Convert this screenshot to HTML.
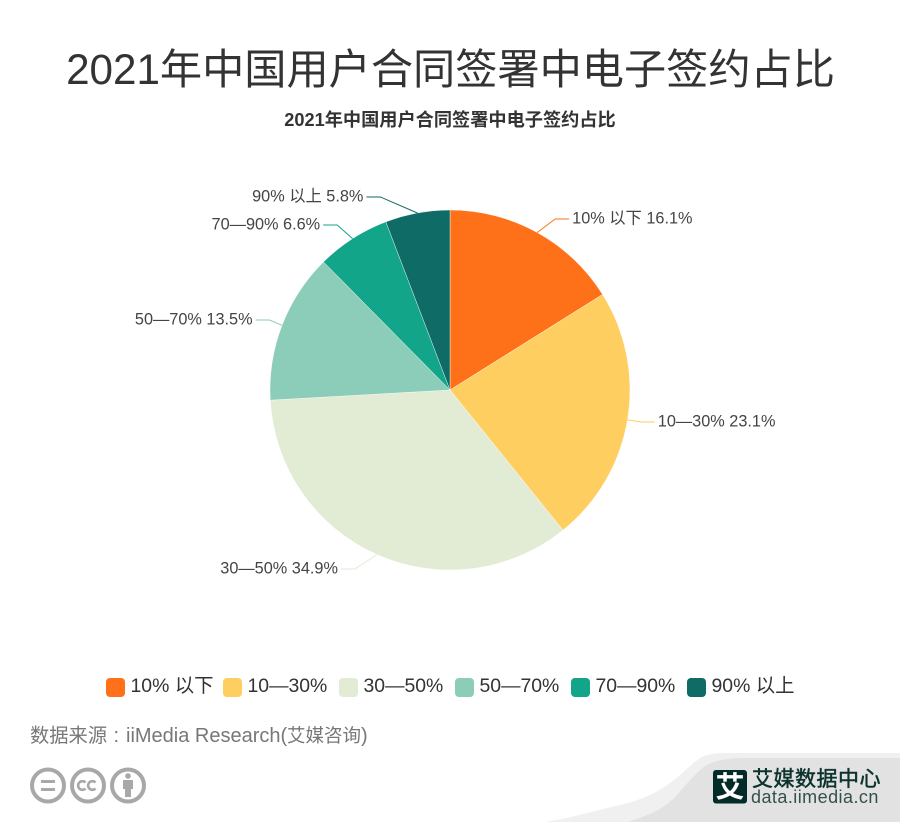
<!DOCTYPE html>
<html lang="zh">
<head>
<meta charset="utf-8">
<title>2021年中国用户合同签署中电子签约占比</title>
<style>
html,body{margin:0;padding:0;background:#fff;}
#stage{position:relative;width:900px;height:822px;overflow:hidden;background:#fff;font-family:"Liberation Sans","Noto Sans CJK SC",sans-serif;}
svg{position:absolute;left:0;top:0;display:block;}
text{font-family:"Liberation Sans","Noto Sans CJK SC",sans-serif;}
</style>
</head>
<body>
<div id="stage">
<svg id="chart" width="900" height="822" viewBox="0 0 900 822">
  <g>
    <path d="M545 822 C570 818 590 812 607 808 C625 804 640 800 650 795 C662 789 672 782 680 775 C688 768 694 762 700 758 C708 754 716 753 730 753 L900 753 L900 822 Z" fill="#f0f0f0"/>
    <path d="M628 822 C640 818 652 814 663 807 C672 801 678 794 683 788 C689 781 695 775 700 770 C708 763 720 758 745 758 L900 758 L900 822 Z" fill="#e2e2e2"/>
  </g>
  <text x="450.5" y="84" text-anchor="middle" font-size="42.2" fill="#333333">2021年中国用户合同签署中电子签约占比</text>
  <text x="450" y="126" text-anchor="middle" font-size="18.2" font-weight="bold" fill="#333333">2021年中国用户合同签署中电子签约占比</text>
  <g id="slices"></g>
  <g id="leaders"></g>
  <g id="labels"></g>
  <g id="legend"></g>
  <text y="742" font-size="20" fill="#777777"><tspan x="30" font-size="19.3">数据来源</tspan><tspan x="113.5">:</tspan><tspan x="126">iiMedia Research(</tspan><tspan x="287" font-size="18.5">艾媒咨询</tspan><tspan>)</tspan></text>
  <g fill="none" stroke="#a8a8a8">
    <g>
      <circle cx="48" cy="785.5" r="16" stroke-width="4"/>
      <rect x="41" y="780" width="14" height="3" fill="#a8a8a8" stroke="none"/>
      <rect x="41" y="788" width="14" height="3" fill="#a8a8a8" stroke="none"/>
    </g>
    <g>
      <circle cx="88" cy="785.5" r="16" stroke-width="4"/>
      <path d="M85.5 782.5a4.3 4.3 0 1 0 0 6" stroke-width="2.6"/>
      <path d="M95.5 782.5a4.3 4.3 0 1 0 0 6" stroke-width="2.6"/>
    </g>
    <g>
      <circle cx="128" cy="785.5" r="16" stroke-width="4"/>
      <circle cx="128" cy="776" r="2.8" fill="#a8a8a8" stroke="none"/>
      <path d="M123 780 H133 V789 H131 V797 H125 V789 H123 Z" fill="#a8a8a8" stroke="none"/>
    </g>
  </g>
  <g>
    <rect x="713" y="770" width="34" height="33.5" rx="3" fill="#032b27"/>
    <text x="730" y="797" text-anchor="middle" font-size="29" font-weight="bold" fill="#ffffff">艾</text>
    <text x="752" y="786" font-size="21" letter-spacing="0.5" fill="#0c322e" stroke="#0c322e" stroke-width="0.5">艾媒数据中心</text>
    <text x="751" y="803" font-size="18" letter-spacing="0.45" fill="#34504c">data.iimedia.cn</text>
  </g>
</svg>
</div>
<script>
var categories = ["10% 以下", "10—30%", "30—50%", "50—70%", "70—90%", "90% 以上"];
var shareValues = [16.1, 23.1, 34.9, 13.5, 6.6, 5.8];
var sliceColors = ["#ff7119", "#ffce60", "#e2ebd3", "#8ccdb9", "#13a58a", "#0e6b66"];

var NS = "http://www.w3.org/2000/svg";
var cx = 450, cy = 390, radius = 180, labelRadius = 196;

function make(tag, attrs, parent) {
  var el = document.createElementNS(NS, tag);
  for (var key in attrs) el.setAttribute(key, attrs[key]);
  parent.appendChild(el);
  return el;
}
function angleScale(cumulative, total) {
  return cumulative / total * Math.PI * 2;
}
function polarX(angle, r) { return cx + r * Math.sin(angle); }
function polarY(angle, r) { return cy - r * Math.cos(angle); }

function drawPie() {
  var slices = document.getElementById("slices");
  var leaders = document.getElementById("leaders");
  var labels = document.getElementById("labels");
  var total = shareValues.reduce(function (a, b) { return a + b; }, 0);
  var running = 0;
  shareValues.forEach(function (value, i) {
    var a0 = angleScale(running, total);
    var a1 = angleScale(running + value, total);
    var mid = (a0 + a1) / 2;
    running += value;
    var large = a1 - a0 > Math.PI ? 1 : 0;
    var d = "M" + cx + " " + cy +
      "L" + polarX(a0, radius) + " " + polarY(a0, radius) +
      "A" + radius + " " + radius + " 0 " + large + " 1 " + polarX(a1, radius) + " " + polarY(a1, radius) + "Z";
    var slice = make("path", { d: d, fill: sliceColors[i], stroke: "#ffffff", "stroke-width": 0.4 }, slices);
    
    

    var side = Math.sin(mid) >= 0 ? 1 : -1;
    var c = Math.abs(Math.cos(mid));
    var labelY = Math.round(polarY(mid, labelRadius));
    var endX = polarX(mid, labelRadius) + side * (11.5 + 37 * Math.pow(c, 8) + 16 * Math.pow(c, 80));
    var bendX = endX - side * 14;
    var line = make("polyline", {
      points: polarX(mid, radius) + "," + polarY(mid, radius) + " " + bendX + "," + labelY + " " + endX + "," + labelY,
      fill: "none", stroke: sliceColors[i], "stroke-width": 1
    }, leaders);
    
    

    var label = make("text", {
      x: endX + side * 3, y: labelY + 4.5,
      "text-anchor": side > 0 ? "start" : "end",
      "font-size": 16.3, fill: "#444444"
    }, labels);
    label.textContent = categories[i] + " " + value.toFixed(1) + "%";
    
    
  });
}

function drawLegend() {
  var legend = document.getElementById("legend");
  categories.forEach(function (name, i) {
    var x = 106 + (i === 0 ? 0 : 117 + (i - 1) * 116);
    var item = make("g", {}, legend);
    
    
    var swatch = make("rect", { x: x, y: 678, width: 19, height: 19, rx: 4, fill: sliceColors[i] }, item);
    
    
    var text = make("text", { x: x + 24.5, y: 692, "font-size": 19.4, fill: "#333333" }, item);
    text.textContent = name;
    
    
  });
}

drawPie();
drawLegend();
</script>
</body>
</html>
